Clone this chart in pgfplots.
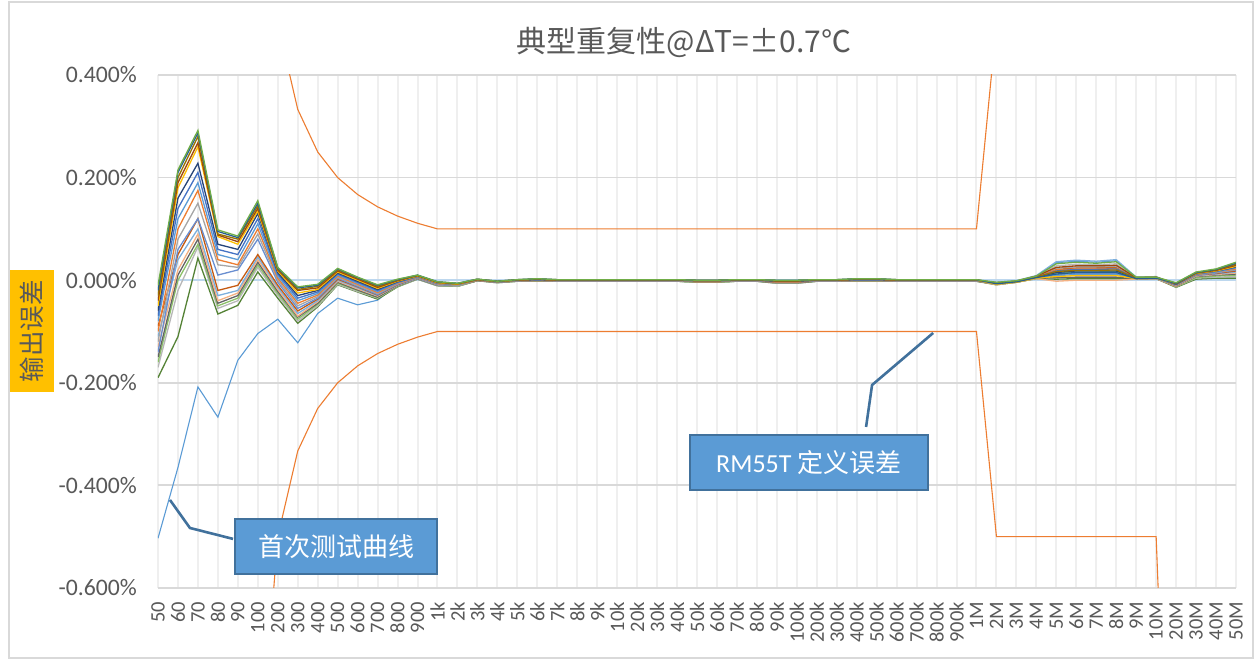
\documentclass[border=0pt]{standalone}
\usepackage{pgfplots}
\pgfplotsset{compat=1.18}
\usepackage{pgfplotstable}
\usepackage{fontspec}
\setmainfont{Carlito}
\newfontfamily\cjk{Noto Sans CJK SC}

\definecolor{txt}{HTML}{595959}
\definecolor{gridh}{HTML}{D9D9D9}
\definecolor{gridv}{HTML}{EFEFEF}
\definecolor{zeroc}{HTML}{BDD7EE}
\definecolor{limc}{HTML}{ED7D31}
\definecolor{firstc}{HTML}{5B9BD5}
\definecolor{boxf}{HTML}{5B9BD5}
\definecolor{boxd}{HTML}{41719C}
\definecolor{ybox}{HTML}{FFC000}
\definecolor{c1}{HTML}{70AD47}
\definecolor{c2}{HTML}{255E91}
\definecolor{c3}{HTML}{997300}
\definecolor{c4}{HTML}{9E480E}
\definecolor{c5}{HTML}{FFC000}
\definecolor{c6}{HTML}{264478}
\definecolor{c7}{HTML}{4472C4}
\definecolor{c8}{HTML}{5B9BD5}
\definecolor{c9}{HTML}{ED7D31}
\definecolor{c10}{HTML}{A5A5A5}
\definecolor{c11}{HTML}{698ED0}
\definecolor{c12}{HTML}{C55A11}
\definecolor{c13}{HTML}{7CAFDD}
\definecolor{c14}{HTML}{F4B183}
\definecolor{c15}{HTML}{636363}
\definecolor{c16}{HTML}{8CC168}
\definecolor{c17}{HTML}{B7B7B7}
\definecolor{c18}{HTML}{548235}

% output error in %, one row per frequency (index i), z = zero line,
% up/lo = RM55T limits, f = first test, a1..a18 = repeat runs
\pgfplotstableread{
i z up lo f a1 a2 a3 a4 a5 a6 a7 a8 a9 a10 a11 a12 a13 a14 a15 a16 a17 a18
0 0 2.000 -2.000 -0.503 -0.010 -0.020 -0.030 -0.040 -0.050 -0.060 -0.070 -0.080 -0.100 -0.120 -0.140 -0.090 -0.110 -0.130 -0.150 -0.160 -0.170 -0.190
1 0 1.667 -1.667 -0.365 0.215 0.210 0.200 0.190 0.180 0.160 0.140 0.120 0.100 0.080 0.060 0.050 0.040 0.020 0.010 0.000 -0.020 -0.110
2 0 1.429 -1.429 -0.208 0.292 0.287 0.280 0.268 0.260 0.228 0.210 0.190 0.175 0.150 0.120 0.120 0.100 0.090 0.080 0.070 0.065 0.043
3 0 1.250 -1.250 -0.267 0.098 0.095 0.090 0.088 0.085 0.070 0.060 0.050 0.040 0.030 0.010 -0.020 -0.030 -0.040 -0.045 -0.050 -0.055 -0.066
4 0 1.111 -1.111 -0.156 0.086 0.083 0.080 0.075 0.070 0.060 0.050 0.040 0.030 0.025 0.020 -0.010 -0.020 -0.025 -0.030 -0.035 -0.040 -0.049
5 0 1.000 -1.000 -0.104 0.155 0.150 0.145 0.140 0.135 0.130 0.120 0.110 0.100 0.090 0.080 0.050 0.045 0.040 0.035 0.030 0.025 0.016
6 0 0.500 -0.500 -0.076 0.025 0.024 0.022 0.020 0.018 0.015 0.012 0.008 0.004 0.000 -0.004 -0.010 -0.014 -0.018 -0.022 -0.026 -0.030 -0.035
7 0 0.333 -0.333 -0.122 -0.013 -0.015 -0.018 -0.020 -0.025 -0.030 -0.035 -0.040 -0.045 -0.050 -0.055 -0.060 -0.065 -0.070 -0.072 -0.076 -0.080 -0.084
8 0 0.250 -0.250 -0.065 -0.008 -0.010 -0.012 -0.015 -0.018 -0.020 -0.023 -0.026 -0.029 -0.032 -0.035 -0.037 -0.040 -0.042 -0.045 -0.047 -0.050 -0.052
9 0 0.200 -0.200 -0.035 0.023 0.022 0.020 0.018 0.016 0.014 0.012 0.010 0.008 0.006 0.004 0.002 0.000 -0.002 -0.004 -0.006 -0.008 -0.009
10 0 0.167 -0.167 -0.048 0.006 0.005 0.004 0.002 0.000 -0.002 -0.004 -0.006 -0.008 -0.010 -0.012 -0.013 -0.015 -0.017 -0.019 -0.020 -0.022 -0.023
11 0 0.143 -0.143 -0.039 -0.009 -0.010 -0.012 -0.014 -0.016 -0.018 -0.020 -0.022 -0.024 -0.026 -0.028 -0.029 -0.030 -0.031 -0.033 -0.034 -0.035 -0.037
12 0 0.125 -0.125 -0.009 0.002 0.001 0.000 -0.001 -0.002 -0.003 -0.004 -0.005 -0.006 -0.007 -0.008 -0.009 -0.010 -0.010 -0.011 -0.012 -0.012 -0.013
13 0 0.111 -0.111 0.002 0.010 0.010 0.009 0.009 0.008 0.008 0.007 0.007 0.006 0.006 0.005 0.005 0.004 0.004 0.003 0.003 0.002 0.002
14 0 0.100 -0.100 -0.010 -0.003 -0.003 -0.004 -0.004 -0.005 -0.005 -0.006 -0.006 -0.007 -0.007 -0.008 -0.008 -0.009 -0.009 -0.010 -0.010 -0.011 -0.011
15 0 0.100 -0.100 -0.012 -0.006 -0.006 -0.007 -0.007 -0.008 -0.008 -0.008 -0.009 -0.009 -0.010 -0.010 -0.010 -0.011 -0.011 -0.011 -0.012 -0.012 -0.012
16 0 0.100 -0.100 0.000 0.002 0.002 0.002 0.001 0.001 0.001 0.001 0.001 0.000 0.000 0.000 0.000 0.000 0.000 -0.001 -0.001 -0.001 -0.001
17 0 0.100 -0.100 -0.004 -0.002 -0.002 -0.002 -0.002 -0.003 -0.003 -0.003 -0.003 -0.003 -0.003 -0.004 -0.004 -0.004 -0.004 -0.004 -0.004 -0.005 -0.005
18 0 0.100 -0.100 -0.001 0.001 0.001 0.001 0.000 0.000 0.000 0.000 0.000 0.000 -0.001 -0.001 -0.001 -0.001 -0.001 -0.002 -0.002 -0.002 -0.002
19 0 0.100 -0.100 -0.001 0.003 0.003 0.002 0.002 0.002 0.001 0.001 0.001 0.001 0.000 0.000 0.000 0.000 -0.001 -0.001 -0.001 -0.001 -0.002
20 0 0.100 -0.100 -0.001 0.001 0.001 0.001 0.000 0.000 0.000 0.000 0.000 0.000 -0.001 -0.001 -0.001 -0.001 -0.001 -0.002 -0.002 -0.002 -0.002
21 0 0.100 -0.100 -0.001 0.001 0.001 0.001 0.000 0.000 0.000 0.000 0.000 0.000 -0.001 -0.001 -0.001 -0.001 -0.001 -0.002 -0.002 -0.002 -0.002
22 0 0.100 -0.100 -0.001 0.001 0.001 0.001 0.000 0.000 0.000 0.000 0.000 0.000 -0.001 -0.001 -0.001 -0.001 -0.001 -0.002 -0.002 -0.002 -0.002
23 0 0.100 -0.100 -0.001 0.001 0.001 0.001 0.000 0.000 0.000 0.000 0.000 0.000 -0.001 -0.001 -0.001 -0.001 -0.001 -0.002 -0.002 -0.002 -0.002
24 0 0.100 -0.100 -0.001 0.001 0.001 0.001 0.000 0.000 0.000 0.000 0.000 0.000 -0.001 -0.001 -0.001 -0.001 -0.001 -0.002 -0.002 -0.002 -0.002
25 0 0.100 -0.100 -0.001 0.001 0.001 0.001 0.000 0.000 0.000 0.000 0.000 0.000 -0.001 -0.001 -0.001 -0.001 -0.001 -0.002 -0.002 -0.002 -0.002
26 0 0.100 -0.100 -0.001 0.001 0.001 0.001 0.000 0.000 0.000 0.000 0.000 0.000 -0.001 -0.001 -0.001 -0.001 -0.001 -0.002 -0.002 -0.002 -0.002
27 0 0.100 -0.100 -0.002 0.000 0.000 0.000 -0.001 -0.001 -0.001 -0.001 -0.002 -0.002 -0.002 -0.002 -0.003 -0.003 -0.003 -0.003 -0.004 -0.004 -0.004
28 0 0.100 -0.100 -0.002 0.000 0.000 0.000 -0.001 -0.001 -0.001 -0.001 -0.002 -0.002 -0.002 -0.002 -0.003 -0.003 -0.003 -0.003 -0.004 -0.004 -0.004
29 0 0.100 -0.100 -0.001 0.001 0.001 0.001 0.000 0.000 0.000 0.000 0.000 0.000 -0.001 -0.001 -0.001 -0.001 -0.001 -0.002 -0.002 -0.002 -0.002
30 0 0.100 -0.100 -0.001 0.001 0.001 0.001 0.000 0.000 0.000 0.000 0.000 0.000 -0.001 -0.001 -0.001 -0.001 -0.001 -0.002 -0.002 -0.002 -0.002
31 0 0.100 -0.100 -0.005 0.000 0.000 -0.001 -0.001 -0.001 -0.002 -0.002 -0.002 -0.003 -0.003 -0.003 -0.004 -0.004 -0.004 -0.005 -0.005 -0.006 -0.006
32 0 0.100 -0.100 -0.005 0.000 0.000 -0.001 -0.001 -0.001 -0.002 -0.002 -0.002 -0.003 -0.003 -0.003 -0.004 -0.004 -0.004 -0.005 -0.005 -0.006 -0.006
33 0 0.100 -0.100 -0.001 0.001 0.001 0.001 0.000 0.000 0.000 0.000 0.000 0.000 -0.001 -0.001 -0.001 -0.001 -0.001 -0.002 -0.002 -0.002 -0.002
34 0 0.100 -0.100 -0.001 0.001 0.001 0.001 0.000 0.000 0.000 0.000 0.000 0.000 -0.001 -0.001 -0.001 -0.001 -0.001 -0.002 -0.002 -0.002 -0.002
35 0 0.100 -0.100 0.000 0.003 0.003 0.002 0.002 0.002 0.001 0.001 0.001 0.001 0.000 0.000 0.000 0.000 -0.001 -0.001 -0.001 -0.001 -0.002
36 0 0.100 -0.100 0.000 0.003 0.003 0.002 0.002 0.002 0.001 0.001 0.001 0.001 0.000 0.000 0.000 0.000 -0.001 -0.001 -0.001 -0.001 -0.002
37 0 0.100 -0.100 -0.001 0.001 0.001 0.001 0.000 0.000 0.000 0.000 0.000 0.000 -0.001 -0.001 -0.001 -0.001 -0.001 -0.002 -0.002 -0.002 -0.002
38 0 0.100 -0.100 -0.001 0.001 0.001 0.001 0.000 0.000 0.000 0.000 0.000 0.000 -0.001 -0.001 -0.001 -0.001 -0.001 -0.002 -0.002 -0.002 -0.002
39 0 0.100 -0.100 -0.001 0.001 0.001 0.001 0.000 0.000 0.000 0.000 0.000 0.000 -0.001 -0.001 -0.001 -0.001 -0.001 -0.002 -0.002 -0.002 -0.002
40 0 0.100 -0.100 -0.001 0.001 0.001 0.001 0.000 0.000 0.000 0.000 0.000 0.000 -0.001 -0.001 -0.001 -0.001 -0.001 -0.002 -0.002 -0.002 -0.002
41 0 0.100 -0.100 -0.001 0.001 0.001 0.001 0.000 0.000 0.000 0.000 0.000 0.000 -0.001 -0.001 -0.001 -0.001 -0.001 -0.002 -0.002 -0.002 -0.002
42 0 0.500 -0.500 -0.006 -0.004 -0.007 -0.006 -0.005 -0.008 -0.007 -0.006 -0.008 -0.006 -0.005 -0.007 -0.006 -0.004 -0.009 -0.008 -0.007 -0.005 -0.009
43 0 0.500 -0.500 -0.003 -0.001 -0.003 -0.003 -0.002 -0.004 -0.003 -0.003 -0.004 -0.002 -0.002 -0.003 -0.002 -0.001 -0.004 -0.004 -0.003 -0.002 -0.004
44 0 0.500 -0.500 0.006 0.008 0.005 0.006 0.008 0.004 0.006 0.006 0.004 0.007 0.007 0.005 0.007 0.009 0.003 0.004 0.005 0.008 0.003
45 0 0.500 -0.500 0.034 0.032 0.012 0.017 0.025 0.007 0.015 0.018 0.009 0.020 0.023 0.011 0.021 0.036 -0.002 0.005 0.014 0.028 0.002
46 0 0.500 -0.500 0.037 0.035 0.015 0.019 0.028 0.009 0.018 0.021 0.011 0.022 0.026 0.013 0.024 0.039 0.000 0.006 0.016 0.031 0.003
47 0 0.500 -0.500 0.035 0.033 0.015 0.019 0.028 0.009 0.018 0.021 0.011 0.022 0.026 0.013 0.024 0.037 0.000 0.006 0.016 0.030 0.003
48 0 0.500 -0.500 0.038 0.036 0.015 0.020 0.029 0.009 0.018 0.022 0.011 0.023 0.027 0.013 0.025 0.040 0.000 0.006 0.017 0.032 0.003
49 0 0.500 -0.500 0.005 0.006 0.003 0.004 0.005 0.003 0.004 0.004 0.003 0.004 0.005 0.003 0.005 0.006 0.002 0.002 0.004 0.005 0.002
50 0 0.500 -0.500 0.005 0.006 0.004 0.005 0.006 0.004 0.005 0.005 0.004 0.005 0.006 0.004 0.005 0.007 0.003 0.003 0.004 0.006 0.003
51 0 1.500 -1.500 -0.010 -0.005 -0.006 -0.006 -0.007 -0.007 -0.008 -0.008 -0.009 -0.009 -0.010 -0.010 -0.011 -0.011 -0.012 -0.012 -0.013 -0.013 -0.014
52 0 1.500 -1.500 0.010 0.016 0.015 0.014 0.014 0.013 0.013 0.012 0.012 0.011 0.011 0.010 0.010 0.009 0.008 0.007 0.005 0.004 0.002
53 0 1.500 -1.500 0.014 0.022 0.021 0.020 0.019 0.018 0.018 0.017 0.016 0.016 0.015 0.014 0.013 0.012 0.011 0.010 0.008 0.006 0.004
54 0 1.500 -1.500 0.018 0.035 0.033 0.031 0.029 0.027 0.026 0.025 0.024 0.022 0.021 0.020 0.018 0.016 0.014 0.012 0.010 0.007 0.004
}\data

\begin{document}
\begin{tikzpicture}
\useasboundingbox (0,0) rectangle (627.5pt,330pt);
\fill[white] (0,0) rectangle (627.5pt,330pt);
\draw[gridh, line width=0.75pt] (4.5pt,1pt) rectangle (626.5pt,329pt);
\node[text=txt, font=\cjk\fontsize{15pt}{18pt}\selectfont] at (342pt,309pt) {典型重复性@ΔT=±0.7℃};
\fill[ybox] (5pt,134pt) rectangle (27pt,195pt);
\node[rotate=90, text=txt, font=\cjk\fontsize{12.75pt}{15pt}\selectfont] at (16pt,164.5pt) {输出误差};
\begin{axis}[
    at={(79pt,36pt)}, anchor=south west,
    scale only axis, width=539pt, height=256.5pt,
    xmin=0, xmax=54, ymin=-0.6, ymax=0.4,
    enlargelimits=false,
    axis line style={draw=none},
    tick style={draw=none},
    major tick length=0pt,
    xtick={0,...,54},
    xticklabels={50,60,70,80,90,100,200,300,400,500,600,700,800,900,
      1k,2k,3k,4k,5k,6k,7k,8k,9k,10k,20k,30k,40k,50k,60k,70k,80k,90k,
      100k,200k,300k,400k,500k,600k,700k,800k,900k,
      1M,2M,3M,4M,5M,6M,7M,8M,9M,10M,20M,30M,40M,50M},
    xticklabel shift=3.5pt,
    xticklabel style={rotate=90, anchor=east, text=txt,
      font=\fontsize{10.25pt}{12pt}\selectfont},
    ytick={-0.6,-0.4,-0.2,0,0.2,0.4},
    yticklabels={-0.600\%,-0.400\%,-0.200\%,0.000\%,0.200\%,0.400\%},
    yticklabel style={text=txt, xshift=-7pt,
      font=\fontsize{11.85pt}{14pt}\selectfont},
    xmajorgrids, ymajorgrids,
    x grid style={gridv, line width=1pt},
    y grid style={gridh, line width=0.9pt},
  ]
  \addplot[zeroc, line width=1.1pt, no marks] table[x=i, y=z] {\data};
  \addplot[firstc, line width=0.55pt, no marks] table[x=i, y=f] {\data};
  \pgfplotsinvokeforeach{18,17,...,1}{
    \addplot[c#1, line width=0.65pt, no marks] table[x=i, y=a#1] {\data};
  }
  \addplot[limc, line width=0.55pt, no marks] table[x=i, y=up] {\data};
  \addplot[limc, line width=0.55pt, no marks] table[x=i, y=lo] {\data};

  % callouts
  \draw[boxd, line width=1.3pt] (axis cs:3.76,-0.5043) -- (axis cs:1.60,-0.4830) -- (axis cs:0.60,-0.4284);
  \draw[boxd, fill=boxf, line width=1pt] (axis cs:3.86,-0.4655) rectangle (axis cs:13.98,-0.5727);
  \node[text=white, font=\cjk\fontsize{13pt}{15pt}\selectfont] at (axis cs:8.92,-0.519) {首次测试曲线};
  \draw[boxd, line width=1.3pt] (axis cs:35.47,-0.2861) -- (axis cs:35.77,-0.2043) -- (axis cs:38.83,-0.1029);
  \draw[boxd, fill=boxf, line width=1pt] (axis cs:26.65,-0.3017) rectangle (axis cs:38.58,-0.4089);
  \node[text=white, font=\fontsize{13pt}{15pt}\selectfont] at (axis cs:32.6,-0.3553) {RM55T {\cjk 定义误差}};
\end{axis}
\end{tikzpicture}
\end{document}
